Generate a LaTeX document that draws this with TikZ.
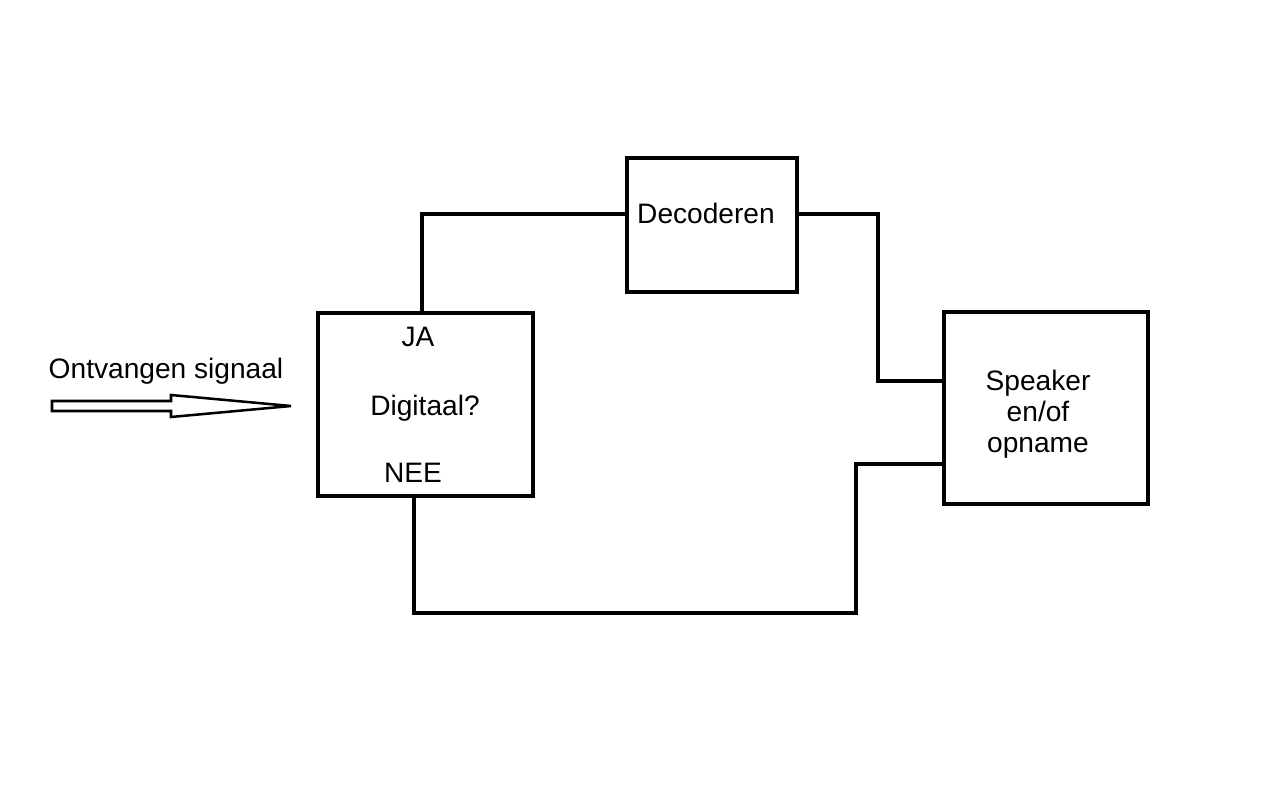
\documentclass[tikz,border=0pt]{standalone}
\usepackage{fontspec}
\setmainfont{Liberation Sans}
\usetikzlibrary{positioning}

\begin{document}
\begin{tikzpicture}[
    x=0.025cm, y=-0.025cm,
    box/.style={draw, line width=2.2pt, inner sep=0pt},
    txt/.style={font=\fontsize{20}{22}\selectfont, align=center, inner sep=0pt},
    wire/.style={draw, line width=2.2pt}
]
    \useasboundingbox (0,0) rectangle (1280,793);

    % Boxes
    \node[box, minimum width=5.375cm, minimum height=4.575cm] (digital) at (425.5,404.5) {};
    \node[box, minimum width=4.25cm, minimum height=3.35cm] (decoder) at (712,225) {};
    \node[box, minimum width=5.1cm, minimum height=4.8cm] (speaker) at (1046,408) {};

    % Texts
    \node[txt] (ja) at (418,337) {JA};
    \node[txt] (digq) at (425,408) {Digitaal?};
    \node[txt] (nee) at (413,473) {NEE};
    \node[txt] (dec) at (706,213) {Decoderen};
    \node[txt] (spk) at (1038,414) {Speaker\\en/of\\opname};
    \node[txt] (input) at (166,371) {Ontvangen signaal};

    % Input arrow
    \draw[line width=1.8pt, line join=miter] (52,401) -- (171,401) -- (171,395) -- (291,406)
        -- (171,417) -- (171,411) -- (52,411) -- cycle;

    % Connections
    \draw[wire] (digital.north -| 422,0) |- (decoder.west |- 0,214);
    \draw[wire] (decoder.east |- 0,214) -| (878,381) -- (speaker.west |- 0,381);
    \draw[wire] (digital.south -| 414,0) |- (856,613) |- (speaker.west |- 0,464);
\end{tikzpicture}
\end{document}
